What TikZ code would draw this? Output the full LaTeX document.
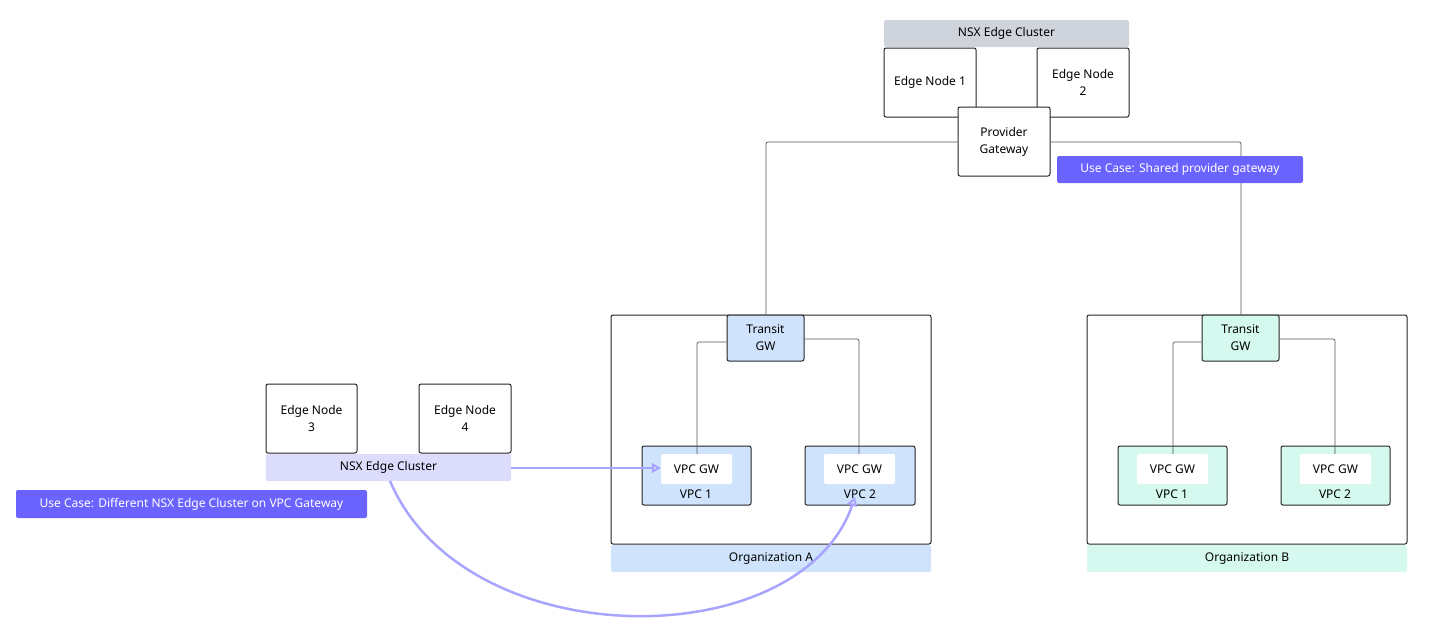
\documentclass[tikz,border=0pt]{standalone}
\usepackage{fontspec}
\setmainfont{Noto Sans}
\usetikzlibrary{arrows.meta}
\definecolor{gr}{HTML}{CFD4DC}
\definecolor{bl}{HTML}{CFE3FC}
\definecolor{mt}{HTML}{D5F8EF}
\definecolor{lv}{HTML}{DCDCFD}
\definecolor{pu}{HTML}{6B63FF}
\definecolor{ar}{HTML}{A9A5FF}
\definecolor{ln}{HTML}{555555}
\tikzset{
  box/.style={draw=black!85,line width=1pt,rounded corners=2pt,align=center,font=\fontsize{12}{17}\selectfont,inner sep=0pt},
  bar/.style={rounded corners=2pt,font=\fontsize{12}{15}\selectfont,inner sep=0pt},
  wire/.style={draw=ln,line width=0.7pt,rounded corners=2pt},
  flow/.style={draw=ar,line width=2.5pt,-{Triangle[open,length=9pt,width=10pt,line width=2pt]}}
}
\newcommand{\bx}[6]{\node[#6,minimum width=#4-#2,minimum height=#5-#3] (#1) at ({(#2+#4)/2},{(#3+#5)/2}) {};}
\begin{document}
\begin{tikzpicture}[x=1pt,y=-1pt]
\useasboundingbox (0,0) rectangle (1438,635);
% top cluster
\bx{hdr}{884}{20}{1129}{47}{bar,fill=gr}
\node[font=\fontsize{12}{15}\selectfont] at (hdr) {NSX Edge Cluster};
\bx{en1}{884}{48}{976}{117}{box,fill=white}
\node[font=\fontsize{12}{17}\selectfont,align=center] at (en1) {Edge Node 1};
\bx{en2}{1037}{48}{1129}{117}{box,fill=white}
\node[font=\fontsize{12}{17}\selectfont,align=center] at (en2) {Edge Node\\2};
\draw[line width=1pt,black!85] (976,107) -- (1037,107);
\bx{pg}{958}{107}{1050}{176}{box,fill=white}
\node[font=\fontsize{12}{17}\selectfont,align=center] at (pg) {Provider\\Gateway};
% org A
\bx{orgA}{611}{315}{931}{544}{box}
\bx{labA}{611}{545}{931}{572}{bar,fill=bl}
\node[font=\fontsize{12}{15}\selectfont] at (labA) {Organization A};
\bx{vpcA1}{642}{446}{751}{505}{box,fill=bl}
\bx{vpcA2}{805}{446}{915}{505}{box,fill=bl}
\bx{gwA1}{661}{454}{732}{484}{bar,fill=white}
\bx{gwA2}{824}{454}{895}{484}{bar,fill=white}
\node[font=\fontsize{12}{15}\selectfont] at (gwA1) {VPC GW};
\node[font=\fontsize{12}{15}\selectfont] at (gwA2) {VPC GW};
\node[font=\fontsize{12}{15}\selectfont] at (696,494) {VPC 1};
\node[font=\fontsize{12}{15}\selectfont] at (860,494) {VPC 2};
\bx{trA}{727}{315}{804}{361}{box,fill=bl}
\node[font=\fontsize{12}{17}\selectfont,align=center] at (trA) {Transit\\GW};
\draw[wire] (trA.west|-0,342) -| (gwA1.north-|697,0);
\draw[wire] (trA.east|-0,339) -| (gwA2.north-|859,0);
% org B
\bx{orgB}{1087}{315}{1407}{544}{box}
\bx{labB}{1087}{545}{1407}{572}{bar,fill=mt}
\node[font=\fontsize{12}{15}\selectfont] at (labB) {Organization B};
\bx{vpcB1}{1118}{446}{1227}{505}{box,fill=mt}
\bx{vpcB2}{1281}{446}{1390}{505}{box,fill=mt}
\bx{gwB1}{1137}{454}{1208}{484}{bar,fill=white}
\bx{gwB2}{1300}{454}{1371}{484}{bar,fill=white}
\node[font=\fontsize{12}{15}\selectfont] at (gwB1) {VPC GW};
\node[font=\fontsize{12}{15}\selectfont] at (gwB2) {VPC GW};
\node[font=\fontsize{12}{15}\selectfont] at (1172,494) {VPC 1};
\node[font=\fontsize{12}{15}\selectfont] at (1335,494) {VPC 2};
\bx{trB}{1202}{315}{1279}{361}{box,fill=mt}
\node[font=\fontsize{12}{17}\selectfont,align=center] at (trB) {Transit\\GW};
\draw[wire] (trB.west|-0,342) -| (gwB1.north-|1173,0);
\draw[wire] (trB.east|-0,339) -| (gwB2.north-|1335,0);
% provider links
\draw[wire] (pg.west|-0,142) -| (trA.north-|766,0);
\draw[wire] (pg.east|-0,142) -| (trB.north-|1241,0);
\bx{uc1}{1057}{156}{1303}{183}{bar,fill=pu}
\node[font=\fontsize{12}{15}\selectfont,text=white] at (uc1) {Use Case: Shared provider gateway};
% left cluster
\bx{en3}{266}{384}{357}{453}{box,fill=white}
\node[font=\fontsize{12}{17}\selectfont,align=center] at (en3) {Edge Node\\3};
\bx{en4}{419}{384}{511}{453}{box,fill=white}
\node[font=\fontsize{12}{17}\selectfont,align=center] at (en4) {Edge Node\\4};
\bx{cl2}{266}{454}{511}{481}{bar,fill=lv}
\node[font=\fontsize{12}{15}\selectfont] at (cl2) {NSX Edge Cluster};
\bx{uc2}{16}{490}{367}{518}{bar,fill=pu}
\node[font=\fontsize{12}{15}\selectfont,text=white] at (uc2) {Use Case: Different NSX Edge Cluster on VPC Gateway};
% arrows
\draw[flow] (cl2.east|-0,468) -- (gwA1.west|-0,468);
\coordinate (cs) at (390,481);
\coordinate (ce) at (855,497);
\draw[flow] (cs) .. controls (465,657) and (800,657) .. (ce);
\end{tikzpicture}
\end{document}
